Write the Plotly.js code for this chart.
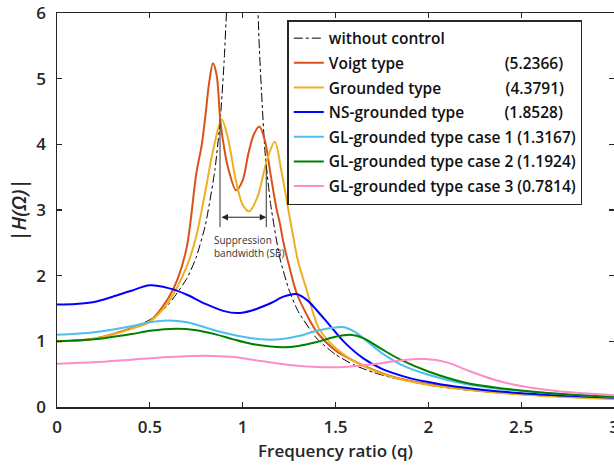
<!DOCTYPE html>
<html>
<head>
<meta charset="utf-8">
<script src="https://cdn.plot.ly/plotly-3.0.1.min.js"></script>
<style>html,body{margin:0;padding:0;background:#fff;overflow:hidden}</style>
</head>
<body>
<div id="chart" style="width:614px;height:471px"></div>
<script>
// ---- data ----
const q_none = [0,0.2,0.4,0.5,0.6,0.7,0.75,0.8,0.85,0.88,0.9,0.92,0.95,1.0,1.05,1.07,1.09,1.12,1.15,1.2,1.25,1.3,1.4,1.5,1.6,1.7,1.8,2.0,2.2,2.5,2.75,3.0];
const h_none = [1.0,1.04,1.19,1.33,1.56,1.96,2.28,2.78,3.6,4.4,5.26,6.5,10,40,9.8,7.2,5.45,3.9,3.1,2.27,1.78,1.45,1.04,0.8,0.64,0.53,0.45,0.333,0.26,0.19,0.15,0.125];

const q_voigt = [0,0.2,0.4,0.5,0.6,0.65,0.7,0.75,0.78,0.8,0.82,0.84,0.86,0.88,0.9,0.92,0.965,1.0,1.03,1.06,1.09,1.12,1.15,1.18,1.2,1.22,1.25,1.29,1.35,1.4,1.5,1.6,1.8,2.0,2.2,2.5,3.0];
const h_voigt = [1.0,1.04,1.2,1.31,1.66,1.95,2.45,3.55,4.0,4.45,4.95,5.2366,5.05,4.35,3.95,3.66,3.3,3.45,3.85,4.15,4.27,4.05,3.55,3.05,2.8,2.5,2.15,1.74,1.38,1.14,0.86,0.7,0.47,0.35,0.27,0.2,0.13];

const q_grd = [0,0.2,0.4,0.5,0.6,0.7,0.75,0.8,0.84,0.887,0.92,0.96,1.0,1.035,1.08,1.13,1.173,1.21,1.24,1.275,1.3,1.344,1.41,1.5,1.6,1.8,2.0,2.5,3.0];
const h_grd = [1.0,1.04,1.19,1.3,1.6,2.15,2.6,3.3,3.9,4.3791,4.1,3.5,3.08,2.98,3.2,3.75,4.04,3.57,3.1,2.55,2.2,1.79,1.2,0.9,0.7,0.46,0.34,0.19,0.12];

const q_ns = [0,0.1,0.2,0.3,0.4,0.5,0.6,0.7,0.8,0.9,0.97,1.05,1.15,1.22,1.29,1.35,1.4,1.47,1.55,1.65,1.75,1.9,2.0,2.1,2.3,2.5,2.75,3.0];
const h_ns = [1.56,1.57,1.6,1.68,1.77,1.8528,1.81,1.71,1.57,1.46,1.43,1.47,1.58,1.68,1.72,1.62,1.47,1.24,0.98,0.74,0.58,0.44,0.38,0.33,0.26,0.21,0.17,0.14];

const q_gl1 = [0,0.2,0.4,0.5,0.6,0.7,0.8,0.9,1.0,1.1,1.2,1.3,1.4,1.5,1.54,1.6,1.67,1.75,1.85,2.0,2.2,2.4,2.7,3.0];
const h_gl1 = [1.10,1.14,1.23,1.29,1.3167,1.29,1.21,1.13,1.07,1.03,1.03,1.08,1.16,1.21,1.217,1.15,1.0,0.82,0.65,0.49,0.35,0.27,0.2,0.15];

const q_gl2 = [0,0.2,0.4,0.5,0.64,0.75,0.85,0.95,1.05,1.15,1.22,1.3,1.4,1.5,1.58,1.65,1.75,1.85,2.0,2.2,2.5,2.75,3.0];
const h_gl2 = [1.0,1.03,1.11,1.16,1.1924,1.17,1.11,1.03,0.96,0.92,0.91,0.93,0.99,1.07,1.10,1.05,0.88,0.72,0.54,0.37,0.25,0.19,0.155];

const q_gl3 = [0,0.2,0.4,0.6,0.8,0.95,1.1,1.25,1.4,1.55,1.7,1.85,1.98,2.1,2.2,2.35,2.5,2.7,3.0];
const h_gl3 = [0.66,0.68,0.72,0.76,0.7814,0.76,0.70,0.64,0.61,0.61,0.65,0.71,0.73,0.68,0.57,0.42,0.32,0.24,0.18];

const names = ["without control","Voigt type","Grounded type","NS-grounded type","GL-grounded type case 1","GL-grounded type case 2","GL-grounded type case 3"];
const peaks = [null,"(5.2366)","(4.3791)","(1.8528)","(1.3167)","(1.1924)","(0.7814)"];
const xTicks = [0,0.5,1,1.5,2,2.5,3];
const yTicks = [0,1,2,3,4,5,6];
const sbLeft = 0.878, sbRight = 1.127, sbTopL = 4.379, sbTopR = 3.69, sbBottom = 2.74, sbArrow = 2.89;

// ---- style ----
const FONT = "'Open Sans', 'Segoe UI', sans-serif";
const LEGEND_SIZE = 15.5;
const colors = ["#000000","#D95319","#EDB120","#0000FF","#4DBEEE","#008000","#FF8CC6"];

// legend label padding measured in the page
const cv = document.createElement("canvas").getContext("2d");
cv.font = "600 " + LEGEND_SIZE + "px 'Open Sans'";
function w(s){ return cv.measureText(s).width; }
function label(i){
  if (peaks[i] === null) return names[i];
  if (i <= 3) {
    const nb = "\u00A0";
    const n = Math.max(1, Math.round((177 - w(names[i])) / w(nb)));
    return names[i] + nb.repeat(n) + peaks[i];
  }
  return names[i] + " " + peaks[i];
}

const xs = [q_none,q_voigt,q_grd,q_ns,q_gl1,q_gl2,q_gl3];
const ys = [h_none,h_voigt,h_grd,h_ns,h_gl1,h_gl2,h_gl3];
const traces = xs.map((x,i)=>({
  x:x, y:ys[i], type:"scatter", mode:"lines", name:label(i), legendgroup:"g"+i,
  line: i===0 ? {color:"#000", width:1, dash:"dashdot", shape:"spline", smoothing:0.5}
              : {color:colors[i], width:2, shape:"spline", smoothing:0.9},
  hoverinfo:"skip"
}));

const axisCommon = {
  showgrid:false, zeroline:false, showline:true, linecolor:"#262626", linewidth:1.5,
  mirror:"ticks", ticks:"inside", ticklen:5, tickwidth:1.2, tickcolor:"#262626",
  ticklabeloverflow:"allow",
  tickfont:{family:FONT, size:17, color:"#262626", weight:600}
};

const layout = {
  width:614, height:471,
  margin:{l:57, r:0, t:13, b:64, pad:0},
  paper_bgcolor:"#fff", plot_bgcolor:"#fff",
  font:{family:FONT, color:"#262626"},
  xaxis:Object.assign({}, axisCommon, {
    range:[0,3], tickvals:xTicks, ticktext:xTicks.map(String), ticklabelstandoff:4,
    title:{text:"Frequency ratio (q)", font:{family:FONT, size:17, color:"#262626", weight:600}, standoff:8}
  }),
  yaxis:Object.assign({}, axisCommon, {
    range:[0,6], tickvals:yTicks, ticktext:yTicks.map(String), ticklabelstandoff:6,
    title:{text:"<i>|H(Ω)|</i>", font:{family:FONT, size:20, color:"#262626", weight:600}, standoff:4}
  }),
  showlegend:true,
  legend:{
    x:0.4135, y:0.982, xanchor:"left", yanchor:"top",
    bgcolor:"#fff", bordercolor:"#262626", borderwidth:1.5,
    font:{family:FONT, size:LEGEND_SIZE, color:"#111", weight:600},
    itemwidth:30, tracegroupgap:1.5
  },
  shapes:[
    {type:"line", xref:"x", yref:"y", x0:sbLeft, x1:sbLeft, y0:sbBottom, y1:sbTopL, line:{color:"#333", width:1}},
    {type:"line", xref:"x", yref:"y", x0:sbRight, x1:sbRight, y0:sbBottom, y1:sbTopR, line:{color:"#333", width:1}}
  ],
  annotations:[
    {xref:"x", yref:"y", x:sbRight, y:sbArrow, ax:sbLeft, ay:sbArrow, axref:"x", ayref:"y",
     showarrow:true, arrowhead:2, startarrowhead:2, arrowside:"end+start", arrowsize:1.3, arrowwidth:1, arrowcolor:"#222", text:""},
    {xref:"x", yref:"y", x:0.835, y:2.44, xanchor:"left", yanchor:"middle", align:"left", showarrow:false,
     text:"Suppression<br>bandwidth (SB)", font:{family:FONT, size:10, color:"#333"}}
  ]
};

Plotly.newPlot("chart", traces, layout, {staticPlot:true, displayModeBar:false});
</script>
</body>
</html>
